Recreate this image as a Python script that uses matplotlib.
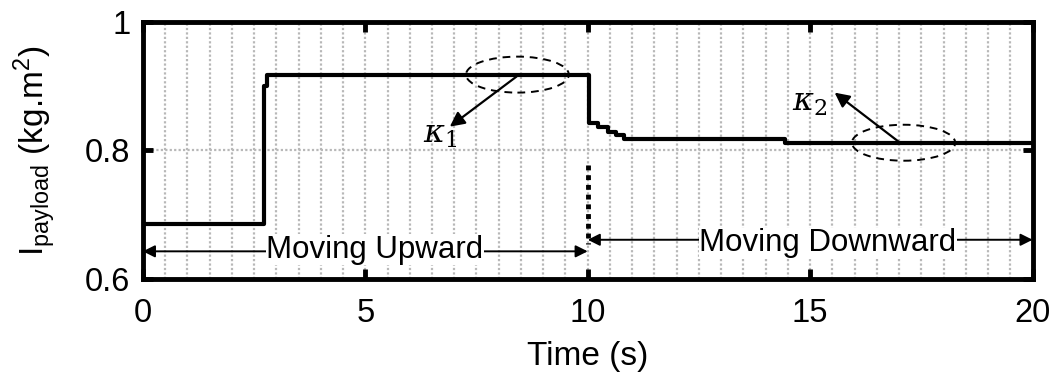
import matplotlib
matplotlib.use("Agg")
import matplotlib.pyplot as plt
from matplotlib.patches import Ellipse
import numpy as np

plt.rcParams['font.family'] = ['Liberation Sans', 'DejaVu Sans']

# step profile of estimated payload inertia
t = [0, 2.72, 2.8, 10.03, 10.22, 10.45, 10.64, 10.81, 14.43, 20]
inertia = [0.685, 0.9, 0.917, 0.843, 0.837, 0.828, 0.824, 0.818, 0.812, 0.812]

x_ticks = [0, 5, 10, 15, 20]
y_ticks = [0.6, 0.8, 1]
y_tick_labels = ["0.6", "0.8", "1"]

fig = plt.figure(figsize=(10.58, 3.78), dpi=100)
ax = fig.add_axes([0.135, 0.262, 0.841, 0.68])

# grid: dotted verticals every 0.5 s, one horizontal at 0.8
for gx in np.arange(0.5, 20, 0.5):
    ax.axvline(gx, color="#b8b8b8", ls=(0, (1, 1)), lw=1.6, zorder=0)
ax.axhline(0.8, color="#b8b8b8", ls=(0, (1, 1)), lw=1.6, zorder=0)

ax.plot(t, inertia, drawstyle="steps-post", color="black", lw=3, zorder=3)

# dotted separator at t = 10
ax.plot([10, 10], [0.777, 0.655], color="black", ls=(0, (1, 1)), lw=3.5, zorder=3)

# phase arrows
arrow_kw = dict(arrowstyle="<|-|>", color="black", lw=1.4, mutation_scale=18, shrinkA=0, shrinkB=0)
ax.annotate("", xy=(0, 0.643), xytext=(10, 0.643), arrowprops=arrow_kw, zorder=2)
ax.annotate("", xy=(10, 0.661), xytext=(20, 0.661), arrowprops=arrow_kw, zorder=2)
box = dict(facecolor="white", edgecolor="none", pad=0.5)
ax.text(5.22, 0.633, "Moving Upward", ha="center", va="baseline", fontsize=22.5, bbox=box, zorder=4)
ax.text(15.4, 0.643, "Moving Downward", ha="center", va="baseline", fontsize=22.5, bbox=box, zorder=4)

# highlighted regions
ax.add_patch(Ellipse((8.42, 0.918), 2.31, 0.056, fill=False, ls=(0, (4, 3)), lw=1.4, zorder=4))
ax.add_patch(Ellipse((17.1, 0.812), 2.32, 0.056, fill=False, ls=(0, (4, 3)), lw=1.4, zorder=4))
small_arrow = dict(arrowstyle="-|>", color="black", lw=1.6, mutation_scale=22, shrinkA=0, shrinkB=0)
ax.annotate("", xy=(6.9, 0.837), xytext=(8.4, 0.915), arrowprops=small_arrow, zorder=5)
ax.annotate("", xy=(15.55, 0.89), xytext=(17.0, 0.813), arrowprops=small_arrow, zorder=5)
ax.text(6.3, 0.812, r"$\kappa_1$", fontsize=23, math_fontfamily="dejavuserif", zorder=5)
ax.text(14.6, 0.862, r"$\kappa_2$", fontsize=23, math_fontfamily="dejavuserif", zorder=5)

ax.set_xlim(0, 20)
ax.set_ylim(0.6, 1)
ax.set_xticks(x_ticks)
ax.set_yticks(y_ticks)
ax.set_yticklabels(y_tick_labels)
ax.tick_params(direction="in", length=7, width=3.5, labelsize=23.5, top=True, right=True)
ax.tick_params(axis="x", pad=14)
ax.tick_params(axis="y", pad=9)
for s in ax.spines.values():
    s.set_linewidth(3.5)

ax.set_xlabel("Time (s)", fontsize=24, labelpad=8)
ax.set_ylabel(r"I$_{\mathregular{payload}}$ (kg.m$^{\mathregular{2}}$)", fontsize=24, labelpad=20)

fig.savefig("out.png", dpi=100)
